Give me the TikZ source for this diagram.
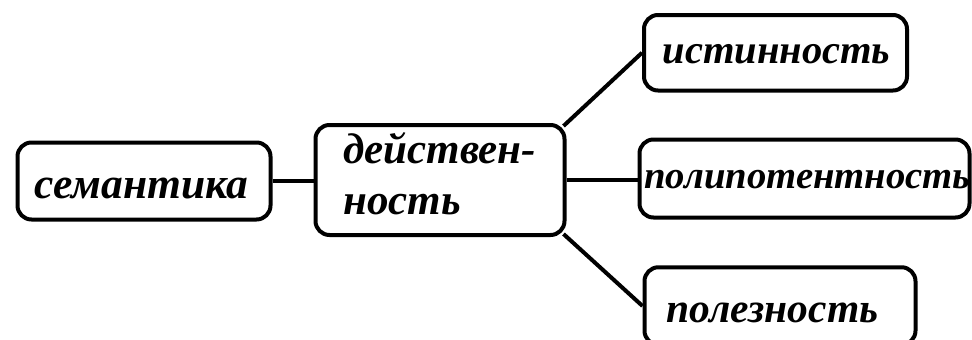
\documentclass[tikz,border=0pt]{standalone}
\usepackage{fontspec}
\setmainfont{Liberation Serif}
\begin{document}
\begin{tikzpicture}[x=1pt,y=-1pt,
  box/.style={draw, line width=4pt, rounded corners=14pt, inner sep=0pt},
  word/.style={inner sep=0pt, font=\fontsize{#1}{#1}\selectfont\bfseries\itshape},
  word/.default=43,
  link/.style={line width=4pt}]
\useasboundingbox (0,0) rectangle (972,340);
\clip (0,0) rectangle (972,340);
% boxes
\node[box, minimum width=253pt, minimum height=77pt] (sem) at (144,181) {};
\node[box, minimum width=249pt, minimum height=110pt] (dei) at (440,180) {};
\node[box, minimum width=263pt, minimum height=75.5pt] (ist) at (775.5,52.75) {};
\node[box, minimum width=330pt, minimum height=78pt] (pol) at (804.5,178.5) {};
\node[box, minimum width=271pt, minimum height=77.5pt] (plz) at (780,306) {};
% labels
\node[word=43.5, anchor=base] (semT) at (141.5,198) {семантика};
\node[word, anchor=base west] (deiA) at (343,163) {действен-};
\node[word, anchor=base west] (deiB) at (343,214) {ность};
\node[word=40.5, anchor=base] (istT) at (776.5,63) {истинность};
\node[word=38.7, anchor=base] (polT) at (807.5,188) {полипотентность};
\node[word=41.5, anchor=base] (plzT) at (772.5,322) {полезность};
% connectors
\draw[link] (sem.east) -- (sem.east -| dei.west);
\draw[link] (dei.east) -- (dei.east -| pol.west);
\draw[link] ([shift={(-3pt,-3pt)}]dei.north east) -- (ist.west);
\draw[link] ([shift={(-3pt,3pt)}]dei.south east) -- (plz.west);
\end{tikzpicture}
\end{document}
